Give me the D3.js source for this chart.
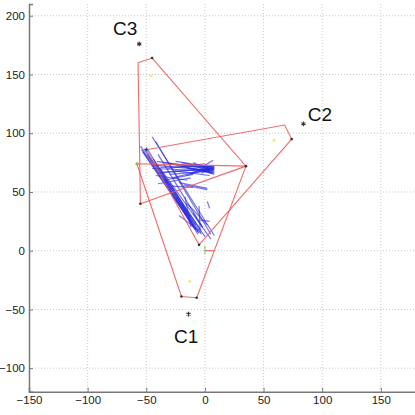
<!DOCTYPE html>
<html>
<head>
<meta charset="utf-8">
<script src="https://cdn.jsdelivr.net/npm/d3@7"></script>
<style>
  body { margin: 0; background: #fff; }
  .tick-label { font-family: "Liberation Sans", Arial, sans-serif; font-size: 11.5px; fill: #222; }
  .cluster-label { font-family: "Liberation Sans", Arial, sans-serif; font-size: 19px; fill: #111; }
</style>
</head>
<body>
<svg id="chart" width="415" height="415"></svg>
<script>
/*****************************************************************************
 *  Data
 */
var X_TICKS = [-150, -100, -50, 0, 50, 100, 150];
var Y_TICKS = [-100, -50, 0, 50, 100, 150, 200];

// cluster hull polygons
var HULL_C1 = [[-58, 74], [35, 72], [-7, -40], [-20, -39]];
var HULL_C2 = [[-50, 86], [68, 107], [74, 95], [-5, 5]];
var HULL_C3 = [[-57, 160], [-45, 164], [35, 72], [-55, 40]];
var HULL_VERTS = [[-45, 164], [35, 72], [-55, 40], [-20, -39], [-7, -40], [74, 95], [-50, 86], [-5, 5]];
var EXTRA_RED = [[0, 0, 8, 0]];

// cluster centers, centroids, labels
var CLUSTER_NAMES = ["C1", "C2", "C3"];
var CENTER_X = [-14, 84, -56];
var CENTER_Y = [-54, 108, 176];
var LABEL_X = [-16, 98, -68];
var LABEL_Y = [-74, 115, 188];
var CENTROID_X = [-13, 59, -46];
var CENTROID_Y = [-26, 94, 149];

// trajectory segments [x1, y1, x2, y2]
var BLUE_SEGS = [
    [-45, 97, 8, 13], [-42, 93, 5, 14], [-55, 89, -5, 15], [-54, 86, -8, 18],
    [-52, 87, -15, 30], [-49, 82, -10, 20], [-47, 80, -3, 14], [-42, 74, 0, 12],
    [-38, 70, 5, 10], [-35, 62, -8, 22], [-30, 58, -12, 28], [-25, 45, -6, 14],
    [-17, 46, -12, 20], [-20, 40, -8, 18], [-5, 38, -4, 15], [2, 42, 4, 36],
    [-4, 26, 4, 25], [-15, 40, 2, 22], [-22, 30, -5, 17], [-10, 32, -2, 20],
    [-53, 84, -12, 24], [-50, 88, -6, 16], [-44, 78, -4, 18], [-40, 82, -2, 20],
    [-41, 76, 7, 69], [-44, 73, 7, 68], [-35, 75, 6, 70], [-30, 74, 7, 66],
    [-38, 71, 7, 72], [-25, 76, 8, 71], [-20, 72, 6, 66], [-45, 70, 5, 68],
    [-40, 66, 8, 70], [-30, 65, 6, 68], [-28, 62, 5, 70], [-35, 60, -10, 65],
    [-22, 58, 2, 53], [-18, 56, 2, 52], [-40, 57, -12, 62], [-10, 75, 8, 67],
    [-5, 73, 8, 69], [0, 72, 8, 70], [7, 77, -1, 72], [-15, 70, 8, 68],
    [-12, 66, 6, 72], [-32, 70, 0, 74], [-8, 70, 8, 65], [-2, 68, 8, 72],
    [-26, 68, 4, 64], [-36, 67, -5, 69], [-20, 75, 8, 69], [-6, 71, 8, 66],
    [-3, 66, 8, 71], [-16, 64, 5, 70], [-42, 64, -15, 60], [-28, 55, -10, 54]
];
var GREEN_SEGS = [[0, -3, 0, 4]];

/*****************************************************************************
 *  Layout
 */
var LEFT = 29, RIGHT = 416, TOP = 4, BOTTOM = 391.7;
var RED = "#f05a5a";
var BLUE = "#2a2ae0";

var svg = d3.select("#chart");

var xScale = d3.scaleLinear().domain([-150, 180]).range([LEFT, RIGHT]);
var yScale = d3.scaleLinear().domain([-120, 210]).range([BOTTOM, TOP]);

// gridlines
svg.selectAll(".vgrid")
    .data(X_TICKS.slice(1))
    .enter()
    .append("line")
    .attr("class", "vgrid")
    .attr("x1", d => xScale(d)).attr("x2", d => xScale(d))
    .attr("y1", TOP).attr("y2", BOTTOM)
    .attr("stroke", "#c8c8c8")
    .attr("stroke-width", 1)
    .attr("stroke-dasharray", "1,2");

svg.selectAll(".hgrid")
    .data(Y_TICKS)
    .enter()
    .append("line")
    .attr("class", "hgrid")
    .attr("x1", LEFT).attr("x2", RIGHT)
    .attr("y1", d => yScale(d)).attr("y2", d => yScale(d))
    .attr("stroke", "#c8c8c8")
    .attr("stroke-width", 1)
    .attr("stroke-dasharray", "1,2");

// axes
var xAxis = d3.axisBottom(xScale).tickValues(X_TICKS).tickSize(-4).tickPadding(4).tickFormat(d3.format("d"));
var yAxis = d3.axisLeft(yScale).tickValues(Y_TICKS).tickSize(-4).tickPadding(4).tickFormat(d3.format("d"));

var gx = svg.append("g").attr("transform", "translate(0," + BOTTOM + ")").call(xAxis);
var gy = svg.append("g").attr("transform", "translate(" + LEFT + ",0)").call(yAxis);

[gx, gy].forEach(function (g) {
    g.select(".domain").attr("stroke", "#777").attr("stroke-width", 1.5);
    g.selectAll(".tick line").attr("stroke", "#777");
    g.selectAll(".tick text").attr("class", "tick-label").attr("fill", null);
});

// trajectory lines
svg.selectAll(".traj")
    .data(BLUE_SEGS)
    .enter()
    .append("line")
    .attr("class", "traj")
    .attr("x1", d => xScale(d[0])).attr("y1", d => yScale(d[1]))
    .attr("x2", d => xScale(d[2])).attr("y2", d => yScale(d[3]))
    .attr("stroke", BLUE)
    .attr("stroke-width", 1.2)
    .attr("opacity", 0.65);

svg.selectAll(".green-seg")
    .data(GREEN_SEGS)
    .enter()
    .append("line")
    .attr("x1", d => xScale(d[0])).attr("y1", d => yScale(d[1]))
    .attr("x2", d => xScale(d[2])).attr("y2", d => yScale(d[3]))
    .attr("stroke", "#5ed05e")
    .attr("stroke-width", 1);

// hulls
var lineGenerator = d3.line()
    .x(d => xScale(d[0]))
    .y(d => yScale(d[1]))
    .curve(d3.curveLinearClosed);

svg.selectAll(".hull")
    .data([HULL_C1, HULL_C2, HULL_C3])
    .enter()
    .append("path")
    .attr("class", "hull")
    .attr("d", d => lineGenerator(d))
    .attr("fill", "none")
    .attr("stroke", RED)
    .attr("stroke-width", 1.1)
    .attr("opacity", 0.9);

svg.selectAll(".extra-red")
    .data(EXTRA_RED)
    .enter()
    .append("line")
    .attr("x1", d => xScale(d[0])).attr("y1", d => yScale(d[1]))
    .attr("x2", d => xScale(d[2])).attr("y2", d => yScale(d[3]))
    .attr("stroke", RED)
    .attr("stroke-width", 1.1);

svg.selectAll(".vert")
    .data(HULL_VERTS)
    .enter()
    .append("circle")
    .attr("cx", d => xScale(d[0]))
    .attr("cy", d => yScale(d[1]))
    .attr("r", 1.3)
    .attr("fill", "#333");

svg.append("circle")
    .attr("cx", xScale(-58)).attr("cy", yScale(74))
    .attr("r", 1.5).attr("fill", "#a0b040");

// centroids (faint yellow)
svg.selectAll(".centroid")
    .data(CENTROID_X)
    .enter()
    .append("circle")
    .attr("cx", (d, i) => xScale(d))
    .attr("cy", (d, i) => yScale(CENTROID_Y[i]))
    .attr("r", 1.5)
    .attr("fill", "#eeee70");

// cluster centers
var star = d3.symbol().type(d3.symbolAsterisk).size(16);
svg.selectAll(".center")
    .data(CENTER_X)
    .enter()
    .append("path")
    .attr("d", star)
    .attr("transform", (d, i) => "translate(" + xScale(d) + "," + yScale(CENTER_Y[i]) + ")")
    .attr("fill", "none")
    .attr("stroke", "#333")
    .attr("stroke-width", 1.1);

svg.selectAll(".cluster-label")
    .data(CLUSTER_NAMES)
    .enter()
    .append("text")
    .attr("class", "cluster-label")
    .attr("text-anchor", "middle")
    .attr("dominant-baseline", "middle")
    .attr("x", (d, i) => xScale(LABEL_X[i]))
    .attr("y", (d, i) => yScale(LABEL_Y[i]))
    .text(d => d);
</script>
</body>
</html>
